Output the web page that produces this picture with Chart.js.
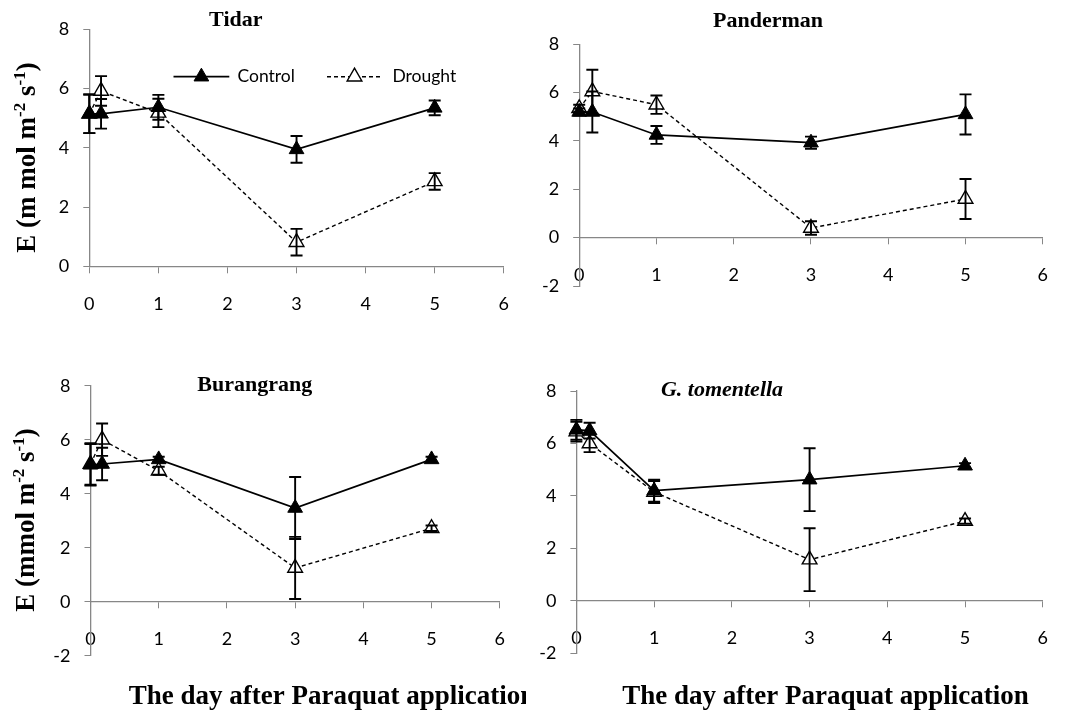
<!DOCTYPE html>
<html><head><meta charset="utf-8">
<script src="https://cdn.jsdelivr.net/npm/chart.js@4.4.1/dist/chart.umd.min.js"></script>
<style>
html,body{margin:0;padding:0;background:#fff;}
#wrap{position:relative;width:1069px;height:715px;overflow:hidden;background:#fff;}
canvas{position:absolute;}
</style></head><body>
<div id="wrap">
<canvas id="c1" width="530" height="330" style="left:0px;top:0px"></canvas>
<canvas id="c2" width="539" height="330" style="left:530px;top:0px"></canvas>
<canvas id="c3" width="526" height="385" style="left:0px;top:330px"></canvas>
<canvas id="c4" width="539" height="385" style="left:530px;top:330px"></canvas>
</div>
<script>
// ---------- data ----------
const days = [0, 0.17, 1, 3, 5];
const xTickValues = [0, 1, 2, 3, 4, 5, 6];
const yTicksTidar = [0, 2, 4, 6, 8];
const yTicksOther = [-2, 0, 2, 4, 6, 8];
const seriesNames = ['Control', 'Drought'];
const panelTitles = ['Tidar', 'Panderman', 'Burangrang', 'G. tomentella'];
const xAxisTitle = 'The day after Paraquat application';

const tidarControl = [5.15, 5.15, 5.37, 3.95, 5.35];
const tidarControlErr = [0.65, 0.5, 0.42, 0.45, 0.25];
const tidarDrought = [5.15, 5.92, 5.18, 0.82, 2.87];
const tidarDroughtErr = [0.65, 0.5, 0.48, 0.45, 0.28];

const pandermanControl = [5.2, 5.2, 4.25, 3.93, 5.1];
const pandermanControlErr = [0.15, 0.85, 0.37, 0.25, 0.83];
const pandermanDrought = [5.35, 6.05, 5.5, 0.4, 1.6];
const pandermanDroughtErr = [0.15, 0.9, 0.38, 0.28, 0.83];

const burangrangControl = [5.07, 5.1, 5.27, 3.47, 5.27];
const burangrangControlErr = [0.77, 0.6, 0.1, 1.15, 0.1];
const burangrangDrought = [5.1, 6.0, 4.85, 1.25, 2.72];
const burangrangDroughtErr = [0.77, 0.6, 0.15, 1.15, 0.1];

const tomentellaControl = [6.52, 6.49, 4.2, 4.62, 5.15];
const tomentellaControlErr = [0.38, 0.3, 0.42, 1.2, 0.1];
const tomentellaDrought = [6.45, 6.0, 4.15, 1.57, 3.04];
const tomentellaDroughtErr = [0.38, 0.33, 0.42, 1.2, 0.1];

// ---------- layout ----------
const SERIF = '"Liberation Serif", "Times New Roman", serif';
const SANS = 'Lato, "Open Sans", sans-serif';
const Y_AXIS_W = 45;
const AXIS_GREY = '#878787';
const TICK_SIZE = 18;

const panels = [
  {id: 'c1', left: 0, top: 0, w: 530, h: 330, ca: {l: 89.3, r: 519.3, t: 29.3, b: 266.5},
   yMin: 0, yMax: 8, yTicks: yTicksTidar,
   control: tidarControl, controlErr: tidarControlErr, drought: tidarDrought, droughtErr: tidarDroughtErr,
   title: {text: panelTitles[0], x: 235.8, y: 26, style: 'bold'},
   yTitle: {segs: [{t: 'E (m mol m'}, {t: '-2', sup: true}, {t: ' s'}, {t: '-1', sup: true}, {t: ')'}], x: 35, y: 157.5},
   xTitle: null, legend: true},
  {id: 'c2', left: 530, top: 0, w: 539, h: 330, ca: {l: 579.2, r: 1059, t: 44.3, b: 286},
   yMin: -2, yMax: 8, yTicks: yTicksOther,
   control: pandermanControl, controlErr: pandermanControlErr, drought: pandermanDrought, droughtErr: pandermanDroughtErr,
   title: {text: panelTitles[1], x: 768, y: 26.5, style: 'bold'},
   yTitle: null, xTitle: null, legend: false},
  {id: 'c3', left: 0, top: 330, w: 526, h: 385, ca: {l: 90.5, r: 518.8, t: 385.7, b: 655.7},
   yMin: -2, yMax: 8, yTicks: yTicksOther,
   control: burangrangControl, controlErr: burangrangControlErr, drought: burangrangDrought, droughtErr: burangrangDroughtErr,
   title: {text: panelTitles[2], x: 254.7, y: 391, style: 'bold'},
   yTitle: {segs: [{t: 'E (mmol m'}, {t: '-2', sup: true}, {t: ' s'}, {t: '-1', sup: true}, {t: ')'}], x: 33.5, y: 520},
   xTitle: {x: 332, y: 704}, legend: false},
  {id: 'c4', left: 530, top: 330, w: 539, h: 385, ca: {l: 576.4, r: 1064.5, t: 391, b: 653.3},
   yMin: -2, yMax: 8, yTicks: yTicksOther,
   control: tomentellaControl, controlErr: tomentellaControlErr, drought: tomentellaDrought, droughtErr: tomentellaDroughtErr,
   title: {text: panelTitles[3], x: 722, y: 396, style: 'italic bold'},
   yTitle: null, xTitle: {x: 825.6, y: 704}, legend: false}
];

Chart.defaults.color = '#000';
Chart.defaults.font.family = SANS;

function drawRich(ctx, segs, x, y, size, style, rotate) {
  ctx.save();
  ctx.translate(x, y);
  if (rotate) ctx.rotate(-Math.PI / 2);
  const base = style + ' ' + size + 'px ' + SERIF;
  const supSize = Math.round(size * 0.62);
  const supFont = style + ' ' + supSize + 'px ' + SERIF;
  let total = 0;
  const widths = segs.map(s => { ctx.font = s.sup ? supFont : base; const w = ctx.measureText(s.t).width; total += w; return w; });
  let cx = -total / 2;
  ctx.textAlign = 'left';
  ctx.textBaseline = 'alphabetic';
  ctx.fillStyle = '#000';
  segs.forEach((s, i) => {
    ctx.font = s.sup ? supFont : base;
    ctx.fillText(s.t, cx, s.sup ? -size * 0.36 : 0);
    cx += widths[i];
  });
  ctx.restore();
}

const errorBarPlugin = {
  id: 'errorBars',
  afterDatasetsDraw(chart) {
    const ctx = chart.ctx;
    const ys = chart.scales.y;
    chart.data.datasets.forEach((ds, di) => {
      if (!ds.errors) return;
      const meta = chart.getDatasetMeta(di);
      meta.data.forEach((pt, i) => {
        const v = ds.data[i].y, e = ds.errors[i];
        const yT = ys.getPixelForValue(v + e), yB = ys.getPixelForValue(v - e);
        const x = pt.x;
        ctx.save();
        ctx.strokeStyle = '#000';
        ctx.lineWidth = 1.9;
        ctx.beginPath();
        ctx.moveTo(x, yT); ctx.lineTo(x, yB);
        ctx.moveTo(x - 6, yT); ctx.lineTo(x + 6, yT);
        ctx.moveTo(x - 6, yB); ctx.lineTo(x + 6, yB);
        ctx.stroke();
        ctx.restore();
      });
    });
  }
};

const panelTextPlugin = {
  id: 'panelText',
  afterDraw(chart, args, opts) {
    const p = opts.panel;
    if (!p) return;
    const ctx = chart.ctx;
    const ox = p.left, oy = p.top;
    ctx.save();
    ctx.font = p.title.style + ' 22px ' + SERIF;
    ctx.fillStyle = '#000';
    ctx.textAlign = 'center';
    ctx.textBaseline = 'alphabetic';
    ctx.fillText(p.title.text, p.title.x - ox, p.title.y - oy);
    ctx.restore();
    if (p.yTitle) drawRich(ctx, p.yTitle.segs, p.yTitle.x - ox, p.yTitle.y - oy, 27, 'bold', true);
    if (p.xTitle) {
      ctx.save();
      ctx.font = 'bold 27px ' + SERIF;
      ctx.fillStyle = '#000';
      ctx.textAlign = 'center';
      ctx.textBaseline = 'alphabetic';
      ctx.fillText(xAxisTitle, p.xTitle.x - ox, p.xTitle.y - oy);
      ctx.restore();
    }
    if (p.legend) {
      const items = [
        {x1: 173.5, x2: 229.3, tx: 237.5, ds: chart.data.datasets[0]},
        {x1: 327, x2: 382, tx: 392.4, ds: chart.data.datasets[1]}
      ];
      const ly = 76.7 - oy;
      items.forEach(it => {
        ctx.save();
        ctx.strokeStyle = '#000';
        ctx.lineWidth = it.ds.borderWidth;
        ctx.setLineDash(it.ds.borderDash || []);
        ctx.beginPath();
        ctx.moveTo(it.x1 - ox, ly); ctx.lineTo(it.x2 - ox, ly);
        ctx.stroke();
        ctx.setLineDash([]);
        ctx.fillStyle = it.ds.pointBackgroundColor;
        ctx.strokeStyle = '#000';
        ctx.lineWidth = it.ds.pointBorderWidth;
        Chart.helpers.drawPoint(ctx, {pointStyle: 'triangle', radius: it.ds.pointRadius, borderWidth: it.ds.pointBorderWidth, rotation: 0},
          (it.x1 + it.x2) / 2 - ox, ly);
        ctx.fillStyle = '#000';
        ctx.font = '17.5px ' + SANS;
        ctx.textAlign = 'left';
        ctx.textBaseline = 'middle';
        ctx.fillText(it.ds.label, it.tx - ox, ly);
        ctx.restore();
      });
    }
  }
};

function pts(vals) { return days.map((d, i) => ({x: d, y: vals[i]})); }

panels.forEach(p => {
  const caL = p.ca.l - p.left, caR = p.ca.r - p.left, caT = p.ca.t - p.top, caB = p.ca.b - p.top;
  new Chart(document.getElementById(p.id), {
    type: 'line',
    data: {
      datasets: [
        {label: seriesNames[0], data: pts(p.control), errors: p.controlErr,
         borderColor: '#000', borderWidth: 1.7, pointStyle: 'triangle', pointRadius: 8.5,
         pointBackgroundColor: '#000', pointBorderColor: '#000', pointBorderWidth: 1, clip: false, tension: 0},
        {label: seriesNames[1], data: pts(p.drought), errors: p.droughtErr,
         borderColor: '#000', borderWidth: 1.4, borderDash: [4, 3], pointStyle: 'triangle', pointRadius: 8.5,
         pointBackgroundColor: '#fff', pointBorderColor: '#000', pointBorderWidth: 1.4, clip: false, tension: 0}
      ]
    },
    options: {
      responsive: false,
      animation: false,
      devicePixelRatio: 1,
      layout: {padding: {left: caL - Y_AXIS_W, right: p.w - caR, top: caT, bottom: p.h - caB}},
      plugins: {
        legend: {display: false},
        tooltip: {enabled: false},
        title: {display: false},
        panelText: {panel: p}
      },
      scales: {
        x: {
          type: 'linear', min: 0, max: 6,
          position: {y: 0},
          afterBuildTicks: s => { s.ticks = xTickValues.map(v => ({value: v})); },
          grid: {drawOnChartArea: false, drawTicks: true, tickLength: 6, color: AXIS_GREY, lineWidth: 1},
          border: {display: true, color: AXIS_GREY, width: 1.3},
          ticks: {font: {size: TICK_SIZE, family: SANS}, color: '#000', padding: 21, maxRotation: 0}
        },
        y: {
          type: 'linear', min: p.yMin, max: p.yMax, position: 'left',
          afterBuildTicks: s => { s.ticks = p.yTicks.map(v => ({value: v})); },
          afterFit: s => { s.width = Y_AXIS_W; },
          grid: {drawOnChartArea: false, drawTicks: true, tickLength: 6, color: AXIS_GREY, lineWidth: 1},
          border: {display: true, color: AXIS_GREY, width: 1.3},
          ticks: {font: {size: TICK_SIZE, family: SANS}, color: '#000', padding: 14}
        }
      }
    },
    plugins: [errorBarPlugin, panelTextPlugin]
  });
});
</script>
</body></html>
